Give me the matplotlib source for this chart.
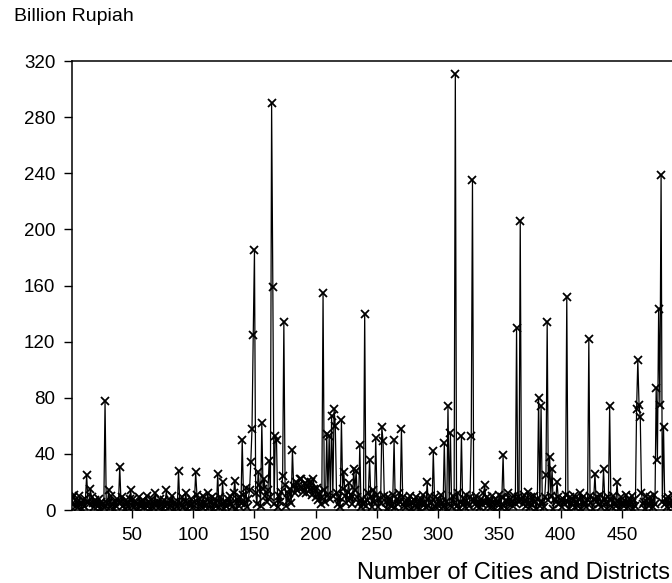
import matplotlib
matplotlib.use("Agg")
import matplotlib.pyplot as plt
import numpy as np

plt.rcParams['font.family'] = ['Liberation Sans', 'DejaVu Sans']

# ---- data: value per city / district (billion rupiah) ----
n_obs = 497

# background level at the bottom
base_vals = [
    4, 9, 11, 3, 6, 2, 10, 5, 1, 7,
    3, 8, 2, 6, 4, 1, 9, 5, 2, 7,
    5, 3, 8, 1, 6, 4, 2, 9, 3, 5,
    7, 2, 10, 4, 1, 6, 3, 8, 5, 2,
    6, 9, 3, 1, 7, 4, 2, 8, 5, 3,
    8, 2, 6, 4, 1, 9, 3, 5, 7, 2,
    4, 10, 3, 6, 1, 8, 2, 5, 9, 3,
    6, 2, 8, 4, 1, 7, 3, 9, 5, 2,
    7, 3, 10, 1, 6, 4, 2, 8, 5, 3,
    9, 2, 6, 12, 1, 5, 3, 8, 4, 2,
    6, 3, 11, 1, 8, 4, 2, 10, 5, 3,
    7, 12, 2, 6, 9, 1, 4, 8, 3, 5,
    2, 9, 4, 11, 1, 6, 3, 8, 5, 10,
    4, 2, 12, 6, 1, 8, 3, 9, 5, 7,
    11, 4, 16, 2, 8, 14, 6, 3, 10, 5,
    12, 4, 9, 18, 3, 7, 15, 2, 10, 6,
    14, 3, 9, 5, 11, 4, 8, 16, 2, 10,
    6, 13, 4, 9, 18, 3, 12, 7, 15, 5,
    10, 17, 12, 20, 14, 18, 11, 22, 16, 13,
    19, 12, 17, 21, 14, 20, 11, 18, 15, 9,
    16, 7, 12, 4, 9, 3, 14, 6, 2, 11,
    5, 8, 3, 10, 6, 1, 12, 4, 9, 2,
    7, 15, 3, 10, 5, 13, 2, 8, 11, 4,
    6, 14, 3, 9, 5, 12, 2, 8, 4, 10,
    3, 7, 12, 5, 9, 2, 14, 6, 4, 11,
    2, 8, 5, 13, 3, 10, 6, 1, 9, 4,
    7, 3, 11, 5, 2, 8, 4, 12, 6, 1,
    9, 3, 6, 2, 8, 4, 10, 1, 5, 7,
    3, 9, 2, 6, 1, 8, 4, 11, 5, 2,
    7, 3, 10, 5, 1, 6, 9, 2, 4, 8,
    3, 11, 5, 2, 9, 6, 1, 13, 4, 8,
    2, 10, 5, 7, 3, 12, 1, 6, 9, 4,
    8, 2, 11, 5, 3, 9, 6, 1, 7, 4,
    10, 3, 6, 2, 8, 4, 12, 1, 5, 9,
    3, 7, 2, 10, 5, 1, 8, 4, 6, 11,
    2, 9, 5, 3, 7, 1, 12, 4, 8, 6,
    3, 10, 5, 2, 9, 6, 1, 8, 4, 11,
    7, 3, 13, 5, 2, 9, 4, 10, 6, 1,
    8, 5, 3, 11, 6, 2, 9, 4, 12, 7,
    3, 10, 5, 1, 8, 6, 2, 9, 4, 7,
    2, 8, 5, 11, 3, 6, 1, 9, 4, 7,
    10, 2, 6, 3, 8, 5, 1, 9, 4, 6,
    2, 7, 4, 10, 5, 1, 8, 3, 6, 9,
    4, 11, 2, 6, 3, 8, 5, 1, 9, 4,
    7, 2, 10, 5, 3, 8, 6, 1, 9, 4,
    6, 3, 11, 5, 2, 8, 4, 10, 1, 7,
    3, 9, 5, 2, 8, 12, 4, 6, 1, 10,
    5, 3, 9, 6, 2, 11, 4, 8, 1, 7,
    10, 3, 6, 12, 4, 8, 2, 9, 5, 3,
    7, 11, 4, 2, 9, 5, 8,
]

# observations that stick out of the band (obs number: value)
peak_vals = {
    13: 25, 16: 15, 28: 78, 31: 14, 40: 31, 49: 14, 69: 12, 78: 14,
    88: 28, 102: 27, 120: 26, 124: 20, 134: 21, 140: 50, 147: 34,
    148: 58, 149: 125, 150: 185, 153: 27, 156: 62, 158: 22, 162: 35,
    164: 290, 165: 159, 167: 53, 168: 50, 173: 24, 174: 134, 181: 43,
    187: 22, 198: 22, 206: 155, 209: 54, 211: 53, 213: 67, 215: 72,
    216: 60, 221: 64, 223: 27, 227: 19, 231: 29, 233: 28, 236: 46,
    240: 140, 244: 36, 249: 51, 254: 59, 255: 49, 264: 50, 270: 58,
    291: 20, 296: 42, 305: 48, 308: 74, 310: 55, 314: 311, 319: 53,
    327: 53, 328: 235, 338: 18, 353: 39, 364: 130, 367: 206, 382: 80,
    384: 74, 388: 25, 389: 134, 391: 38, 393: 29, 397: 20, 405: 152,
    416: 12, 423: 122, 428: 26, 435: 29, 440: 74, 446: 20, 462: 72,
    463: 107, 464: 75, 465: 66, 478: 87, 479: 36, 480: 143, 481: 75,
    482: 239, 484: 59,
}

y_ticks = [0, 40, 80, 120, 160, 200, 240, 280, 320]
x_ticks = [50, 100, 150, 200, 250, 300, 350, 400, 450]

obs = np.arange(1, n_obs + 1)
vals = np.array(base_vals, dtype=float)
for k, v in peak_vals.items():
    vals[k - 1] = v

# ---- figure ----
fig = plt.figure(figsize=(6.72, 5.83), dpi=100)
ax = fig.add_axes([0.1071, 0.1252, 0.904, 0.770])

ax.plot(obs, vals, color='black', lw=0.9, marker='x', ms=6, mew=1.3)

ax.set_xlim(1, n_obs)
ax.set_ylim(0, 320)
ax.set_xticks(x_ticks)
ax.set_yticks(y_ticks)
ax.tick_params(direction='out', length=6, width=1, pad=6, labelsize=13.5, colors='black')
for sp in ax.spines.values():
    sp.set_linewidth(1.1)

fig.text(0.021, 0.9645, 'Billion Rupiah', fontsize=14, va='baseline', ha='left')
fig.text(0.531, 0.0069, 'Number of Cities and Districts', fontsize=17, va='baseline', ha='left')

fig.savefig('out.png', dpi=100)
